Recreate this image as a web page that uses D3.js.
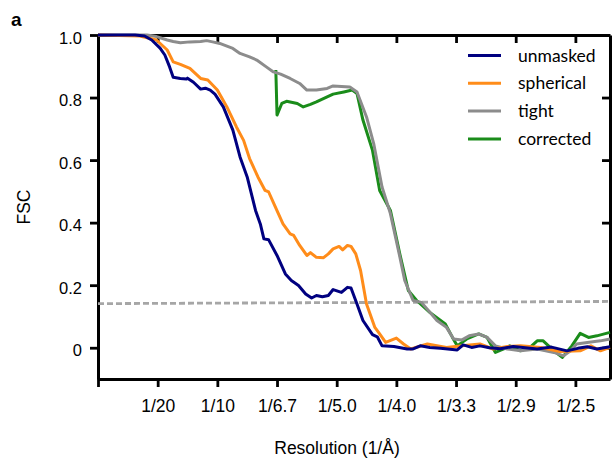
<!DOCTYPE html>
<html>
<head>
<meta charset="utf-8">
<script src="https://cdn.jsdelivr.net/npm/d3@7"></script>
<style>
  body { margin: 0; background: #fff; }
  svg { display: block; font-family: "Liberation Sans", Arial, sans-serif; }
</style>
</head>
<body>
<div id="chart"></div>
<script>
// Resolution ticks (1/Å) and FSC ticks
const xTicks = [0, 0.05, 0.1, 0.15, 0.2, 0.25, 0.3, 0.35, 0.4];
const xTickLabels = ["", "1/20", "1/10", "1/6.7", "1/5.0", "1/4.0", "1/3.3", "1/2.9", "1/2.5"];
const yTicks = [0, 0.2, 0.4, 0.6, 0.8, 1.0];
const yTickLabels = ["0", "0.2", "0.4", "0.6", "0.8", "1.0"];

const seriesNames = ["unmasked", "spherical", "tight", "corrected"];
const seriesColors = ["#000080", "#ff8c1a", "#8c8c8c", "#1a8c1a"];

// [spatial frequency (1/Å), FSC]
const unmasked = [
  [0, 1.0], [0.031, 1.0], [0.039, 0.997], [0.045, 0.984], [0.052, 0.958], [0.056, 0.936],
  [0.060, 0.898], [0.063, 0.865], [0.069, 0.861], [0.074, 0.859], [0.075, 0.862], [0.080, 0.849],
  [0.086, 0.827], [0.090, 0.830], [0.094, 0.824], [0.098, 0.811], [0.105, 0.770], [0.113, 0.696],
  [0.119, 0.610], [0.125, 0.546], [0.132, 0.439], [0.136, 0.396], [0.139, 0.348], [0.143, 0.345],
  [0.150, 0.295], [0.157, 0.236], [0.162, 0.215], [0.168, 0.199], [0.174, 0.172], [0.179, 0.159],
  [0.183, 0.167], [0.188, 0.163], [0.193, 0.167], [0.197, 0.186], [0.204, 0.177], [0.209, 0.193],
  [0.212, 0.191], [0.217, 0.140], [0.222, 0.087], [0.230, 0.042], [0.234, 0.035], [0.238, 0.006],
  [0.248, 0.004], [0.259, -0.004], [0.264, -0.004], [0.270, 0.006], [0.278, 0.001], [0.287, -0.002],
  [0.301, -0.007], [0.306, 0.009], [0.313, 0.001], [0.320, 0.006], [0.328, 0.000], [0.337, -0.003],
  [0.348, 0.004], [0.358, 0.000], [0.368, -0.004], [0.380, 0.002], [0.393, -0.010], [0.402, -0.002],
  [0.410, 0.003], [0.418, -0.004], [0.429, 0.003]
];
const spherical = [
  [0, 1.0], [0.035, 0.997], [0.049, 0.984], [0.058, 0.952], [0.063, 0.914], [0.069, 0.906],
  [0.077, 0.893], [0.086, 0.861], [0.092, 0.856], [0.100, 0.824], [0.108, 0.770], [0.116, 0.706],
  [0.122, 0.663], [0.127, 0.605], [0.134, 0.546], [0.140, 0.503], [0.143, 0.498], [0.148, 0.455],
  [0.155, 0.396], [0.161, 0.364], [0.164, 0.359], [0.169, 0.327], [0.175, 0.295], [0.178, 0.304],
  [0.183, 0.289], [0.189, 0.288], [0.193, 0.300], [0.197, 0.316], [0.202, 0.324], [0.205, 0.313],
  [0.209, 0.327], [0.212, 0.324], [0.216, 0.300], [0.220, 0.247], [0.225, 0.140], [0.232, 0.065],
  [0.236, 0.044], [0.241, 0.017], [0.250, 0.031], [0.256, 0.012], [0.262, -0.004], [0.276, 0.012],
  [0.292, 0.001], [0.305, 0.006], [0.320, 0.012], [0.331, -0.004], [0.343, 0.004], [0.354, 0.006],
  [0.371, 0.001], [0.387, -0.012], [0.404, -0.010], [0.413, 0.006], [0.421, -0.010], [0.429, 0.001]
];
const tight = [
  [0, 1.0], [0.041, 1.0], [0.049, 0.995], [0.058, 0.984], [0.063, 0.979], [0.069, 0.975],
  [0.077, 0.978], [0.086, 0.979], [0.091, 0.982], [0.096, 0.978], [0.102, 0.973], [0.113, 0.957],
  [0.119, 0.941], [0.127, 0.930], [0.133, 0.920], [0.141, 0.898], [0.147, 0.882], [0.153, 0.875],
  [0.161, 0.861], [0.169, 0.845], [0.175, 0.824], [0.183, 0.824], [0.192, 0.829], [0.197, 0.837],
  [0.211, 0.834], [0.217, 0.818], [0.225, 0.738], [0.231, 0.653], [0.238, 0.514], [0.245, 0.429],
  [0.253, 0.289], [0.257, 0.215], [0.264, 0.151], [0.271, 0.145], [0.284, 0.087], [0.292, 0.065],
  [0.298, 0.028], [0.305, 0.025], [0.311, 0.038], [0.319, 0.044], [0.326, 0.033], [0.333, 0.006],
  [0.343, -0.004], [0.354, -0.010], [0.368, -0.004], [0.382, -0.015], [0.390, -0.026], [0.396, -0.010],
  [0.401, 0.012], [0.410, 0.017], [0.421, 0.022], [0.429, 0.028]
];
const corrected = [
  [0.149, 0.888], [0.150, 0.744], [0.154, 0.781], [0.158, 0.788], [0.167, 0.781], [0.172, 0.770],
  [0.178, 0.778], [0.183, 0.786], [0.192, 0.802], [0.197, 0.811], [0.206, 0.818], [0.213, 0.824],
  [0.217, 0.813], [0.222, 0.728], [0.230, 0.631], [0.236, 0.503], [0.245, 0.439], [0.253, 0.298],
  [0.260, 0.183], [0.267, 0.151], [0.278, 0.113], [0.291, 0.076], [0.297, 0.033], [0.301, 0.006],
  [0.309, 0.028], [0.319, 0.044], [0.326, 0.033], [0.333, -0.015], [0.340, -0.004], [0.345, 0.006],
  [0.354, -0.010], [0.362, 0.001], [0.368, 0.022], [0.373, 0.022], [0.382, -0.010], [0.389, -0.031],
  [0.397, 0.006], [0.404, 0.046], [0.411, 0.033], [0.418, 0.038], [0.429, 0.049]
];
const threshold = [[0, 0.141], [0.429, 0.148]];

// Set dimensions
const margin = { top: 35, right: 2, bottom: 80, left: 98 };
const width = 612 - margin.left - margin.right;
const height = 459 - margin.top - margin.bottom;

const svg = d3.select("#chart")
    .append("svg")
    .attr("width", 612)
    .attr("height", 459);

const g = svg.append("g")
    .attr("transform", `translate(${margin.left},${margin.top})`);

const x = d3.scaleLinear().domain([0, 0.429]).range([0, width]);
const y = d3.scaleLinear().domain([-0.1, 1.0]).range([height, 0]);

function styleAxis(sel) {
    sel.select(".domain").attr("stroke", "#000").attr("stroke-width", 3);
    sel.selectAll(".tick line").attr("stroke", "#000").attr("stroke-width", 2.8);
}

// Bottom axis
const xAxis = g.append("g")
    .attr("transform", `translate(0,${height})`)
    .call(d3.axisBottom(x).tickValues(xTicks).tickFormat((d, i) => xTickLabels[i]).tickSize(8).tickSizeOuter(0));
styleAxis(xAxis);
xAxis.selectAll("text")
    .attr("y", 32.5).attr("dy", null)
    .attr("font-size", 17.5).attr("fill", "#000")
    .attr("font-family", "'Liberation Sans', Arial, sans-serif");

// Left axis
const yAxis = g.append("g")
    .call(d3.axisLeft(y).tickValues(yTicks).tickFormat((d, i) => yTickLabels[i]).tickSize(8).tickSizeOuter(0));
styleAxis(yAxis);
yAxis.selectAll("text")
    .attr("x", -16).attr("y", 8).attr("dy", null)
    .attr("font-size", 16.5).attr("fill", "#000")
    .attr("font-family", "'Liberation Sans', Arial, sans-serif");

// Top and right frame with inward ticks
const topAxis = g.append("g")
    .call(d3.axisBottom(x).tickValues(xTicks.slice(1)).tickFormat("").tickSize(8).tickSizeOuter(0));
styleAxis(topAxis);
const rightAxis = g.append("g")
    .attr("transform", `translate(${width},0)`)
    .call(d3.axisLeft(y).tickValues(yTicks).tickFormat("").tickSize(8).tickSizeOuter(0));
styleAxis(rightAxis);

// Threshold
const line = d3.line().x(d => x(d[0])).y(d => y(d[1]));

g.append("path")
    .datum(threshold)
    .attr("d", line)
    .attr("fill", "none")
    .attr("stroke", "#a6a6a6")
    .attr("stroke-width", 2.8)
    .attr("stroke-dasharray", "6,3");

// Curves (drawn in reverse legend order)
const series = [unmasked, spherical, tight, corrected];
[3, 2, 1, 0].forEach(i => {
    g.append("path")
        .datum(series[i])
        .attr("d", line)
        .attr("fill", "none")
        .attr("stroke", seriesColors[i])
        .attr("stroke-width", 3)
        .attr("stroke-linejoin", "round");
});

// Legend
const legend = svg.append("g");
seriesNames.forEach((name, i) => {
    const ly = 55.5 + i * 27.8;
    legend.append("line")
        .attr("x1", 468).attr("x2", 501)
        .attr("y1", ly).attr("y2", ly)
        .attr("stroke", seriesColors[i])
        .attr("stroke-width", 3);
    legend.append("text")
        .attr("x", 518).attr("y", ly + 6)
        .attr("font-family", "Lato, 'Open Sans', sans-serif")
        .attr("font-size", 17.5)
        .attr("fill", "#000")
        .text(name);
});

// Axis titles
svg.append("text")
    .attr("transform", "translate(30,207) rotate(-90)")
    .attr("text-anchor", "middle")
    .attr("font-size", 17.5)
    .text("FSC");

svg.append("text")
    .attr("x", 337).attr("y", 454)
    .attr("text-anchor", "middle")
    .attr("font-size", 17.5)
    .text("Resolution (1/Å)");

svg.append("text")
    .attr("x", 11).attr("y", 26)
    .attr("font-size", 19)
    .attr("font-weight", "bold")
    .text("a");
</script>
</body>
</html>
